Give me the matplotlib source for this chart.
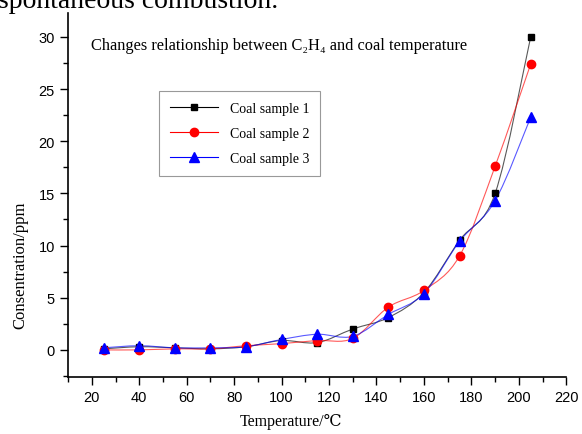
import numpy as np
import matplotlib
matplotlib.use("Agg")
import matplotlib.pyplot as plt
from matplotlib.path import Path
from matplotlib.patches import PathPatch
from matplotlib.lines import Line2D
from matplotlib.ticker import MultipleLocator

# temperature (C) and C2H4 concentration (ppm)
temperature = [25, 40, 55, 70, 85, 100, 115, 130, 145, 160, 175, 190, 205]
sample1 = [0.1, 0.3, 0.2, 0.1, 0.3, 0.9, 0.7, 2.0, 3.1, 5.5, 10.5, 15.0, 30.0]
sample2 = [0.0, 0.0, 0.1, 0.1, 0.4, 0.6, 0.9, 1.1, 4.1, 5.7, 9.0, 17.6, 27.4]
sample3 = [0.2, 0.4, 0.2, 0.2, 0.3, 1.0, 1.5, 1.3, 3.4, 5.4, 10.4, 14.3, 22.3]
labels = ["Coal sample 1", "Coal sample 2", "Coal sample 3"]

plt.rcParams["font.family"] = ["Liberation Sans", "DejaVu Sans"]
serif = ["Liberation Serif", "DejaVu Serif", "Noto Sans CJK SC"]


def smooth_path(x, y):
    # Catmull-Rom through the points, handed to matplotlib as cubic beziers
    x = np.asarray(x, float)
    y = np.asarray(y, float)
    pts = np.column_stack([x, y])
    verts = [pts[0]]
    codes = [Path.MOVETO]
    n = len(pts)
    for i in range(n - 1):
        p0 = pts[i - 1] if i > 0 else pts[i]
        p1 = pts[i]
        p2 = pts[i + 1]
        p3 = pts[i + 2] if i + 2 < n else pts[i + 1]
        c1 = p1 + (p2 - p0) / 6.0
        c2 = p2 - (p3 - p1) / 6.0
        verts += [c1, c2, p2]
        codes += [Path.CURVE4] * 3
    return Path(verts, codes)


fig = plt.figure(figsize=(5.82, 4.35), dpi=100)
ax = fig.add_axes([0.117, 0.131, 0.856, 0.837])

styles = [("black", "s", 5), ("red", "o", 6), ("blue", "^", 6.5)]
handles = []
for ys, (c, m, ms), lab in zip([sample1, sample2, sample3], styles, labels):
    ax.add_patch(PathPatch(smooth_path(temperature, ys), facecolor="none",
                           edgecolor=c, lw=0.8, alpha=0.65))
    ax.plot(temperature, ys, linestyle="none", marker=m, color=c, ms=ms)
    handles.append(Line2D([], [], color=c, lw=0.8, marker=m, ms=ms))

ax.set_xlim(10, 220)
ax.set_ylim(-2.6, 32.3)
ax.set_xticks(np.arange(20, 221, 20))
ax.xaxis.set_minor_locator(MultipleLocator(10))
ax.yaxis.set_major_locator(MultipleLocator(5))
ax.yaxis.set_minor_locator(MultipleLocator(2.5))
ax.tick_params(which="major", direction="out", length=6, width=1, labelsize=10.5)
ax.tick_params(which="minor", direction="out", length=3.5, width=1)
for s in ["top", "right"]:
    ax.spines[s].set_visible(False)
ax.spines["left"].set_linewidth(1.2)
ax.spines["bottom"].set_linewidth(1.2)

ax.set_xlabel("Temperature/℃", family=serif, fontsize=11.5)
ax.xaxis.set_label_coords(0.448, -0.1)
ax.set_ylabel("Consentration/ppm", family=serif, fontsize=12)
ax.yaxis.set_label_coords(-0.08, 0.31)

ax.text(0.045, 0.912, "Changes relationship between C₂H₄ and coal temperature",
        transform=ax.transAxes, family=serif, fontsize=11.8, va="center")

leg = ax.legend(handles, labels, loc="upper left", bbox_to_anchor=(0.168, 0.805),
                prop={"family": serif, "size": 10}, handlelength=3.5,
                fancybox=False, frameon=True, borderpad=0.8, labelspacing=0.85)
leg.get_frame().set_edgecolor("gray")
leg.get_frame().set_linewidth(0.8)

fig.text(-0.003, 0.982, "spontaneous combustion.", family=serif, fontsize=20,
         va="baseline")

fig.savefig("out.png", dpi=100)
